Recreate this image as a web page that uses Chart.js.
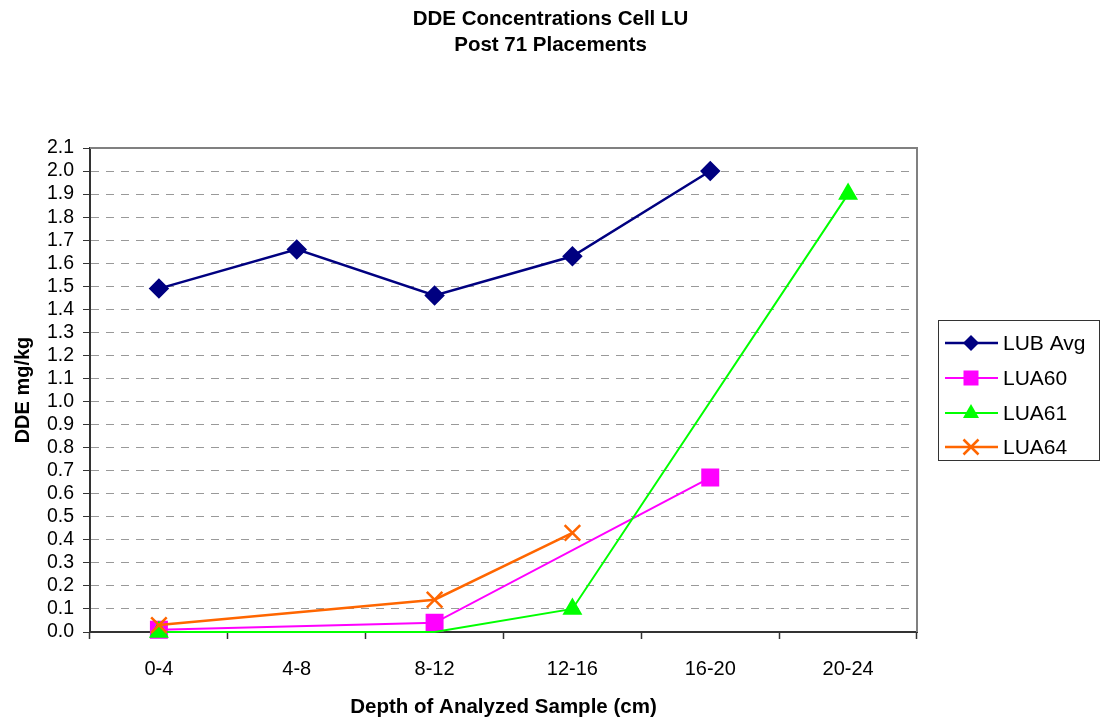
<!DOCTYPE html>
<html>
<head>
<meta charset="utf-8">
<script src="https://cdn.jsdelivr.net/npm/chart.js@4"></script>
<style>
  html, body { margin: 0; padding: 0; background: #fff; }
  #wrap { width: 1101px; height: 723px; }
</style>
</head>
<body>
<div id="wrap"><canvas id="grafico" width="1101" height="723"></canvas></div>
<script>
const categorias = ["0-4", "4-8", "8-12", "12-16", "16-20", "20-24"];
const lubAvg = [1.49, 1.66, 1.46, 1.63, 2.0, null];
const lua60 = [0.01, null, 0.04, null, 0.67, null];
const lua61 = [0.0, null, 0.0, 0.1, null, 1.9];
const lua64 = [0.03, null, 0.14, 0.43, null, null];
const nomes = ["LUB Avg", "LUA60", "LUA61", "LUA64"];
const ticksY = [0, 0.1, 0.2, 0.3, 0.4, 0.5, 0.6, 0.7, 0.8, 0.9, 1.0, 1.1, 1.2, 1.3, 1.4, 1.5, 1.6, 1.7, 1.8, 1.9, 2.0, 2.1];
const titulo = ["DDE Concentrations Cell LU", "Post 71 Placements"];

const fonte = "'Liberation Sans', Arial, sans-serif";

// titulo centrado na largura toda
const tituloTopo = {
  id: "tituloTopo",
  afterDraw(chart) {
    const { ctx, width } = chart;
    ctx.save();
    ctx.fillStyle = "#000";
    ctx.font = "bold 20.5px " + fonte;
    ctx.textAlign = "center";
    ctx.textBaseline = "middle";
    ctx.fillText(titulo[0], width / 2, 19);
    ctx.fillText(titulo[1], width / 2, 45);
    ctx.restore();
  }
};

// quadro da area do grafico (topo e direita cinza)
const moldura = {
  id: "moldura",
  beforeDatasetsDraw(chart) {
    const { ctx, chartArea: a } = chart;
    ctx.save();
    ctx.strokeStyle = "#808080";
    ctx.lineWidth = 2;
    ctx.beginPath();
    ctx.moveTo(a.left, a.top);
    ctx.lineTo(a.right, a.top);
    ctx.lineTo(a.right, a.bottom);
    ctx.stroke();
    ctx.restore();
  }
};

function desenharMarcador(ctx, estilo, x, y, cor) {
  ctx.fillStyle = cor;
  ctx.strokeStyle = cor;
  ctx.beginPath();
  if (estilo === "rectRot") {
    ctx.moveTo(x, y - 8); ctx.lineTo(x + 8, y); ctx.lineTo(x, y + 8); ctx.lineTo(x - 8, y);
    ctx.closePath(); ctx.fill();
  } else if (estilo === "rect") {
    ctx.rect(x - 7.5, y - 7.5, 15, 15); ctx.fill();
  } else if (estilo === "triangle") {
    ctx.moveTo(x, y - 9); ctx.lineTo(x + 8, y + 5); ctx.lineTo(x - 8, y + 5);
    ctx.closePath(); ctx.fill();
  } else {
    ctx.lineWidth = 2.5;
    ctx.moveTo(x - 7.5, y - 7.5); ctx.lineTo(x + 7.5, y + 7.5);
    ctx.moveTo(x + 7.5, y - 7.5); ctx.lineTo(x - 7.5, y + 7.5);
    ctx.stroke();
  }
}

// legenda com linha + marcador, dentro de uma caixa
const legendaCaixa = {
  id: "legendaCaixa",
  afterDraw(chart) {
    const { ctx } = chart;
    ctx.save();
    ctx.strokeStyle = "#333";
    ctx.lineWidth = 1;
    ctx.strokeRect(938.5, 320.5, 161, 140);
    const ys = [343, 378, 413, 447];
    chart.data.datasets.forEach((ds, i) => {
      const y = ys[i];
      ctx.strokeStyle = ds.borderColor;
      ctx.lineWidth = ds.borderWidth;
      ctx.beginPath();
      ctx.moveTo(945, y);
      ctx.lineTo(998, y);
      ctx.stroke();
      desenharMarcador(ctx, ds.pointStyle, 971, y, ds.borderColor);
      ctx.fillStyle = "#000";
      ctx.font = "21px " + fonte;
      ctx.textBaseline = "middle";
      ctx.textAlign = "left";
      ctx.fillText(ds.label, 1003, y + 1);
    });
    ctx.restore();
  }
};

new Chart(document.getElementById("grafico").getContext("2d"), {
  type: "line",
  data: {
    labels: categorias,
    datasets: [
      { label: nomes[0], data: lubAvg, borderColor: "#000080", backgroundColor: "#000080",
        borderWidth: 2.5, pointStyle: "rectRot", pointRadius: 8.5, order: 0 },
      { label: nomes[1], data: lua60, borderColor: "#FF00FF", backgroundColor: "#FF00FF",
        borderWidth: 2, pointStyle: "rect", pointRadius: 11.3, order: 3 },
      { label: nomes[2], data: lua61, borderColor: "#00FF00", backgroundColor: "#00FF00",
        borderWidth: 2, pointStyle: "triangle", pointRadius: [9.5, 0, 0, 9.5, 0, 9.5], order: 2 },
      { label: nomes[3], data: lua64, borderColor: "#FF6600", backgroundColor: "#FF6600",
        borderWidth: 2.5, pointStyle: "crossRot", pointRadius: 11, pointBorderWidth: 2.5, order: 1 }
    ]
  },
  options: {
    responsive: false,
    animation: false,
    spanGaps: true,
    clip: false,
    elements: { line: { tension: 0 }, point: { hoverRadius: 8 } },
    layout: { padding: { left: 0, right: 184, top: 148, bottom: 0 } },
    plugins: {
      legend: { display: false },
      tooltip: { enabled: false },
      title: { display: false }
    },
    scales: {
      x: {
        offset: true,
        afterFit: (s) => { s.height = 91; },
        grid: { display: true, drawOnChartArea: false, offset: true, tickLength: 7, tickColor: "#333", tickWidth: 1.5 },
        border: { display: true, color: "#333", width: 2 },
        ticks: { color: "#000", padding: 18, font: { family: fonte, size: 20 }, maxRotation: 0 },
        title: { display: true, text: "Depth of Analyzed Sample (cm)", color: "#000",
                 font: { family: fonte, size: 20.5, weight: "bold" }, padding: { top: 4, bottom: 3 } }
      },
      y: {
        min: 0,
        max: 2.1,
        afterFit: (s) => { s.width = 90; },
        afterBuildTicks: (s) => { s.ticks = ticksY.map((v) => ({ value: v })); },
        grid: { color: "#999", lineWidth: 1, tickLength: 7, tickColor: "#333", tickBorderDash: [] },
        border: { display: true, color: "#333", width: 2, dash: [8, 7] },
        ticks: { autoSkip: false, color: "#000", padding: 9, font: { family: fonte, size: 19.5 },
                 callback: (v) => Number(v).toFixed(1) },
        title: { display: true, text: "DDE mg/kg", color: "#000",
                 font: { family: fonte, size: 20, weight: "bold" }, padding: { top: 11, bottom: 0 } }
      }
    }
  },
  plugins: [moldura, legendaCaixa, tituloTopo]
});
</script>
</body>
</html>
